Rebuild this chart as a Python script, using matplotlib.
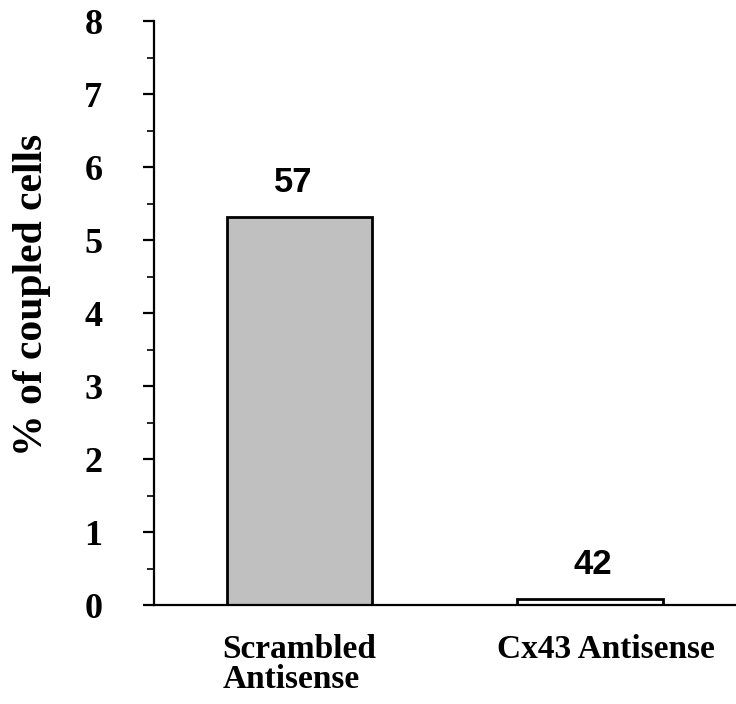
import matplotlib
matplotlib.use("Agg")
import matplotlib.pyplot as plt
import matplotlib.transforms as mtransforms
from matplotlib.ticker import MultipleLocator

categories = ["Scrambled\nAntisense", "Cx43 Antisense"]
values = [5.32, 0.08]
counts = ["57", "42"]
colors = ["#c0c0c0", "#ffffff"]

fig = plt.figure(figsize=(7.36, 7.04), dpi=100)
ax = fig.add_axes([0.209, 0.1406, 0.79, 0.8294])

x = range(len(categories))
ax.bar(x, values, width=0.5, color=colors, edgecolor="black", linewidth=2)

# value labels, nudged slightly as in the original
for xi, v, n, dx in zip(x, values, counts, (-4, 2)):
    ax.annotate(n, (xi, v), xytext=(dx, 18), textcoords="offset points",
                ha="center", va="baseline", fontsize=25, fontweight="bold",
                family="Liberation Sans")

ax.set_xlim(-0.5, 1.5)
ax.set_ylim(0, 8)
ax.yaxis.set_major_locator(MultipleLocator(1))
ax.yaxis.set_minor_locator(MultipleLocator(0.5))

ax.spines["top"].set_visible(False)
ax.spines["right"].set_visible(False)
ax.spines["left"].set_linewidth(1.6)
ax.spines["bottom"].set_linewidth(1.6)

ax.tick_params(axis="y", which="major", length=8, width=1.6, direction="out", pad=29)
ax.tick_params(axis="y", which="minor", length=5, width=1.2, direction="out")
ax.tick_params(axis="x", length=0, pad=21)

ax.set_xticks(list(x))
ax.set_xticklabels(categories, family="Liberation Serif", fontweight="bold",
                   fontsize=24, multialignment="left", va="top", linespacing=0.95)
# second label sits a little right of its bar in the original
lab2 = ax.get_xticklabels()[1]
lab2.set_transform(lab2.get_transform() +
                   mtransforms.ScaledTranslation(0.16, 0, fig.dpi_scale_trans))
for lab in ax.get_yticklabels():
    lab.set_family("Liberation Serif")
    lab.set_fontweight("bold")
    lab.set_fontsize(26)

ax.set_ylabel("% of coupled cells", family="Liberation Serif", fontweight="bold",
              fontsize=30)
ax.yaxis.set_label_coords(-0.176, 0.531)

fig.savefig("out.png", dpi=100)
